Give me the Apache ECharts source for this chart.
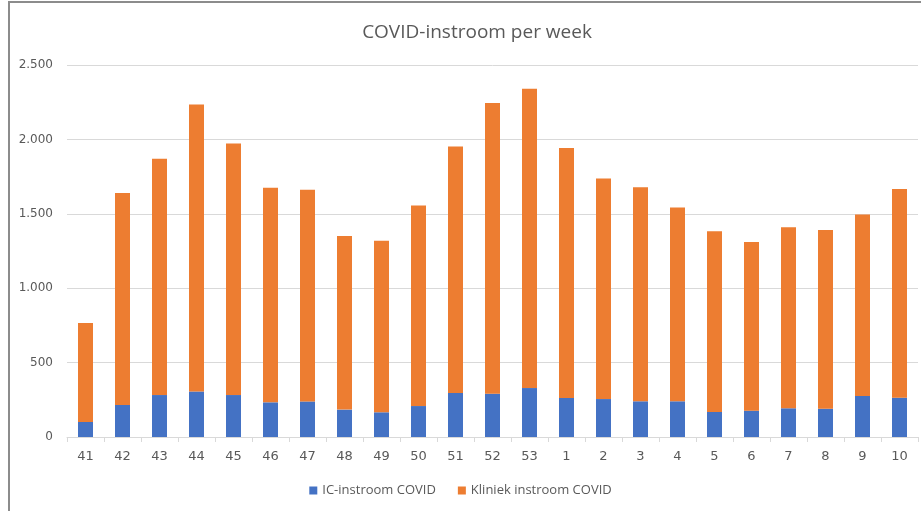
<!DOCTYPE html>
<html><head><meta charset="utf-8">
<script src="https://cdn.jsdelivr.net/npm/echarts@6/dist/echarts.min.js"></script>
<style>html,body{margin:0;padding:0;background:#fff}#c{width:921px;height:511px}</style>
</head><body><div id="c"></div>
<script>
const weeks = ['41','42','43','44','45','46','47','48','49','50','51','52','53','1','2','3','4','5','6','7','8','9','10'];
const icInstroom = [101,215,282,306,282,233,239,184,166,208,296,291,329,262,255,240,240,168,177,193,190,276,264];
const totalInstroom = [766,1640,1870,2235,1973,1675,1662,1351,1319,1555,1953,2245,2341,1942,1738,1678,1543,1382,1310,1409,1391,1496,1667];
const kliniekInstroom = totalInstroom.map((t,i)=>t-icInstroom[i]);
const yTicks = [0,500,1000,1500,2000,2500];

const chart = echarts.init(document.getElementById('c'));
const fmt = v => String(v).replace(/\B(?=(\d{3})+(?!\d))/g,'.');
chart.setOption({
  animation:false,
  textStyle:{fontFamily:'Open Sans'},
  title:{text:'COVID-instroom per week',left:472,textAlign:'center',top:18,
    textStyle:{fontFamily:'Open Sans',fontSize:19,fontWeight:'normal',color:'#595959'}},
  graphic:[{type:'rect',shape:{x:9,y:2,width:920,height:520},style:{fill:'none',stroke:'#8c8c8c',lineWidth:2},silent:true}],
  grid:{left:67,right:3,top:65,bottom:74,containLabel:false},
  legend:{bottom:9,left:'center',itemWidth:8,itemHeight:8,itemGap:22,icon:'rect',
    textStyle:{fontSize:13,color:'#595959',fontFamily:'Open Sans'},
    data:['IC-instroom COVID','Kliniek instroom COVID']},
  xAxis:{type:'category',data:weeks,
    axisLine:{lineStyle:{color:'#d9d9d9'}},
    axisTick:{show:true,length:5,lineStyle:{color:'#d9d9d9'}},
    axisLabel:{color:'#595959',fontSize:13,margin:13,fontFamily:'DejaVu Sans'}},
  yAxis:{type:'value',min:0,max:2500,interval:500,
    axisLine:{show:false},axisTick:{show:false},
    splitLine:{lineStyle:{color:'#d9d9d9'}},
    axisLabel:{color:'#595959',fontSize:12,margin:14,fontFamily:'DejaVu Sans',
      formatter:v=>yTicks.includes(v)?fmt(v):''}},
  series:[
    {name:'IC-instroom COVID',type:'bar',stack:'s',data:icInstroom,barWidth:15,itemStyle:{color:'#4472C4'}},
    {name:'Kliniek instroom COVID',type:'bar',stack:'s',data:kliniekInstroom,barWidth:15,itemStyle:{color:'#ED7D31'}}
  ]
});
</script></body></html>
